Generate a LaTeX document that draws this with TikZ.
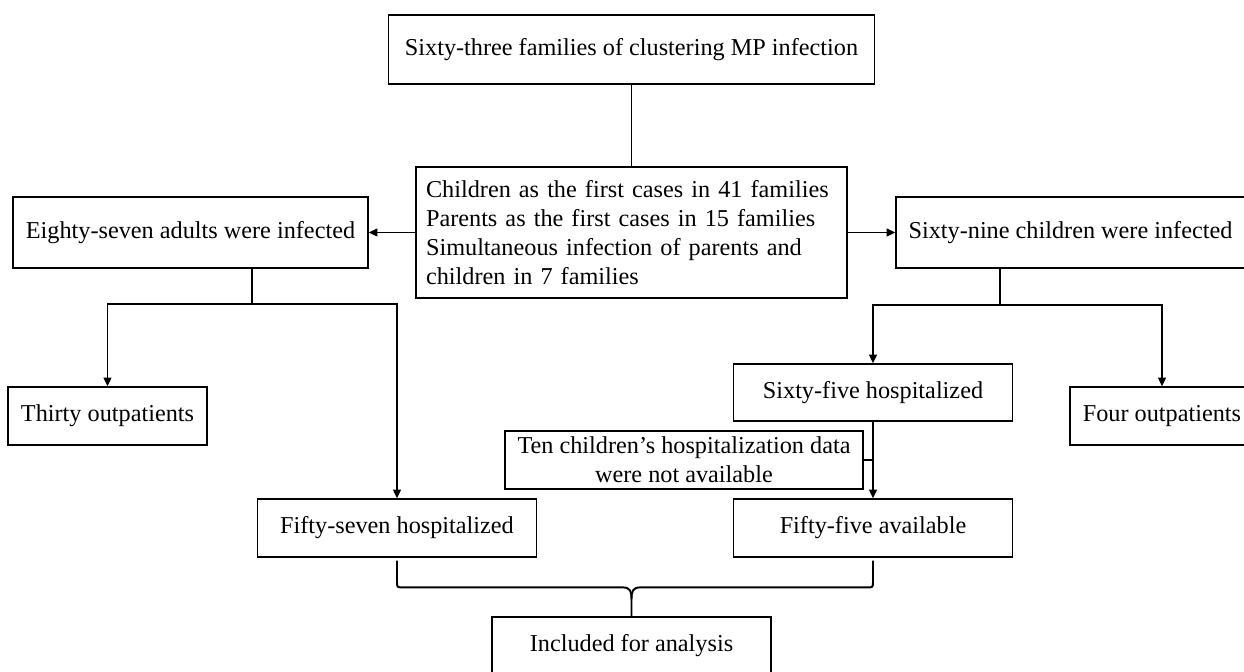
\documentclass[tikz,border=0pt]{standalone}
\usepackage{fontspec}
\setmainfont{Liberation Serif}
\usetikzlibrary{arrows.meta,calc}

\begin{document}
\begin{tikzpicture}[x=0.02cm, y=-0.02cm, >={Triangle[length=5pt,width=4.4pt]},
    box/.style={draw, line width=0.7pt, inner sep=0pt, align=center,
                font=\fontsize{13.8}{16.6}\selectfont},
    link/.style={line width=1.1pt}]

% Fix the page to the size of the chart
\useasboundingbox (0,0) rectangle (1244,672);
\clip (0,0) rectangle (1244,672);

% Boxes, placed at their centres
\node [box, minimum width=9.72cm, minimum height=1.38cm] (top) at (631.5,49.5)
    {Sixty-three families of clustering MP infection};
\node [box, align=left, text width=8.22cm, inner xsep=0.2cm, minimum height=2.62cm] (mid) at (631.5,232.5)
    {Children as the first cases in 41 families\\
     Parents as the first cases in 15 families\\
     Simultaneous infection of parents and\\
     children in 7 families};
\node [box, minimum width=7.1cm, minimum height=1.42cm] (adults) at (190.5,232.5)
    {Eighty-seven adults were infected};
\node [box, minimum width=6.98cm, minimum height=1.42cm] (children) at (1070.5,232.5)
    {Sixty-nine children were infected};
\node [box, minimum width=3.98cm, minimum height=1.16cm] (thirty) at (107.5,416)
    {Thirty outpatients};
\node [box, minimum width=3.68cm, minimum height=1.16cm] (four) at (1162,416)
    {Four outpatients};
\node [box, minimum width=5.58cm, minimum height=1.14cm] (sixtyfive) at (873,392.5)
    {Sixty-five hospitalized};
\node [box, minimum width=7.16cm, minimum height=1.16cm] (ten) at (684,460)
    {Ten children’s hospitalization data\\ were not available};
\node [box, minimum width=5.58cm, minimum height=1.16cm] (fiftyseven) at (397,528)
    {Fifty-seven hospitalized};
\node [box, minimum width=5.58cm, minimum height=1.16cm] (fiftyfive) at (873,528)
    {Fifty-five available};
\node [box, minimum width=5.58cm, minimum height=1.16cm] (included) at (631.5,646)
    {Included for analysis};

% Top to the middle box, then out to both sides
\draw [link] (top.south) -- (mid.north);
\draw [link,->] (mid.west) -- (adults.east);
\draw [link,->] (mid.east) -- (children.west);

% Adults split in two
\coordinate (ljoin) at (252,304);
\draw [link] (adults.south -| ljoin) -- (ljoin);
\draw [link,->] (ljoin) -| (thirty.north);
\draw [link,->] (ljoin) -| (fiftyseven.north);

% Children split in two
\coordinate (rjoin) at (1000,305);
\draw [link] (children.south -| rjoin) -- (rjoin);
\draw [link,->] (rjoin) -| (sixtyfive.north);
\draw [link,->] (rjoin) -| (four.north);

% Hospitalized children with data
\draw [link,->] (sixtyfive.south) -- (fiftyfive.north);
\draw [link] (ten.east) -- (ten.east -| sixtyfive.south);

% Brace joining both groups
\coordinate (bjoin) at ($(included.north)+(0,-29)$);
\draw [link] ($(fiftyseven.south)+(0,3)$) -- ($(fiftyseven.south |- bjoin)+(0,-6)$)
    .. controls ($(fiftyseven.south |- bjoin)$) .. ($(fiftyseven.south |- bjoin)+(6,0)$)
    -- ($(bjoin)+(-9,0)$)
    .. controls ($(bjoin)+(-1,0)$) and ($(bjoin)+(0,4)$) .. ($(bjoin)+(0,12)$)
    -- (included.north);
\draw [link] ($(fiftyfive.south)+(0,3)$) -- ($(fiftyfive.south |- bjoin)+(0,-6)$)
    .. controls ($(fiftyfive.south |- bjoin)$) .. ($(fiftyfive.south |- bjoin)+(-6,0)$)
    -- ($(bjoin)+(9,0)$)
    .. controls ($(bjoin)+(1,0)$) and ($(bjoin)+(0,4)$) .. ($(bjoin)+(0,12)$);

\end{tikzpicture}
\end{document}
